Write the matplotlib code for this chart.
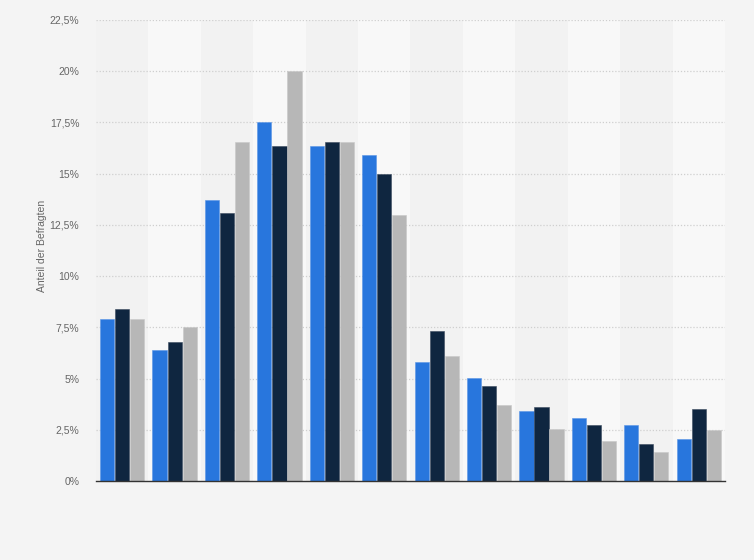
import numpy as np
import matplotlib
matplotlib.use("Agg")
import matplotlib.pyplot as plt
import matplotlib.ticker

plt.rcParams['font.family'] = ['Liberation Sans', 'DejaVu Sans']

# values in percent, three series per group (12 groups, no category labels shown)
series_blue = [7.9, 6.4, 13.7, 17.5, 16.35, 15.9, 5.8, 5.05, 3.4, 3.05, 2.75, 2.05]
series_navy = [8.4, 6.8, 13.1, 16.35, 16.55, 15.0, 7.3, 4.65, 3.6, 2.75, 1.8, 3.5]
series_gray = [7.9, 7.5, 16.55, 20.0, 16.55, 13.0, 6.1, 3.7, 2.55, 1.95, 1.4, 2.5]
yticks = [0, 2.5, 5, 7.5, 10, 12.5, 15, 17.5, 20, 22.5]

fig = plt.figure(figsize=(7.54, 5.6), dpi=100)
fig.patch.set_facecolor("#f4f4f4")
ax = fig.add_axes([0.1273, 0.1411, 0.8342, 0.8232])
ax.set_facecolor("#f2f2f2")

n = len(series_blue)
x = np.arange(n)

# alternating column bands
for i in range(n):
    if i % 2 == 1:
        ax.axvspan(i - 0.5, i + 0.5, color="#f8f8f8", zorder=0, lw=0)

# dotted grid lines
for t in yticks[1:]:
    ax.axhline(t, color="#cfcfcf", lw=0.9, linestyle=(0, (1, 1.5)), zorder=1)

w = 0.27
off = 0.287
ax.bar(x - off, series_blue, w, color="#2876dd", edgecolor="#5a95e6", lw=0.4, zorder=3)
ax.bar(x, series_navy, w, color="#0f2640", edgecolor="#3a4a5e", lw=0.4, zorder=3)
ax.bar(x + off, series_gray, w, color="#b7b7b7", edgecolor="#c8c8c8", lw=0.4, zorder=3)

ax.set_xlim(-0.5, n - 0.5)
ax.set_ylim(0, 22.5)
ax.set_xticks([])
ax.set_yticks(yticks)
ax.yaxis.set_major_formatter(matplotlib.ticker.FuncFormatter(
    lambda v, p: ("%g" % v).replace(".", ",") + "%"))
ax.tick_params(axis="y", length=0, pad=12, labelsize=7.5, labelcolor="#666666")

for s in ["top", "right", "left"]:
    ax.spines[s].set_visible(False)
ax.spines["bottom"].set_color("#333333")
ax.spines["bottom"].set_linewidth(1.0)
ax.spines["bottom"].set_zorder(4)

ax.set_ylabel("Anteil der Befragten", fontsize=7.5, color="#666666")
ax.yaxis.set_label_coords(-0.078, 0.51)

fig.savefig("out.png", dpi=100, facecolor=fig.get_facecolor())
